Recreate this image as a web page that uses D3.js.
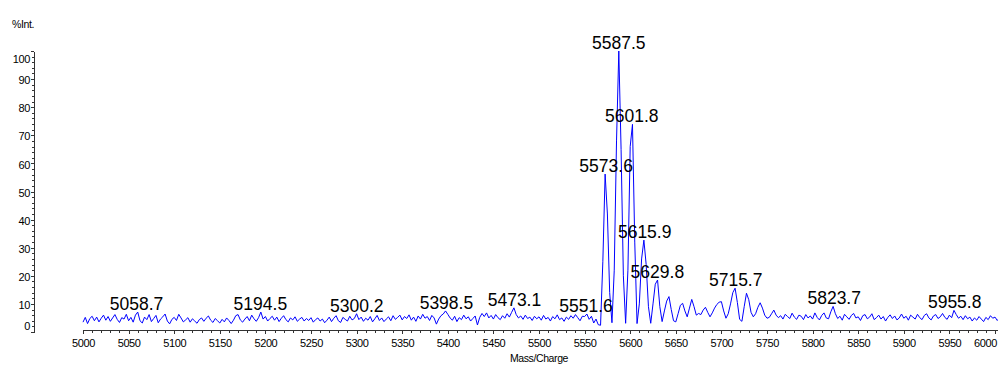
<!DOCTYPE html>
<html>
<head>
<meta charset="utf-8">
<script src="https://cdn.jsdelivr.net/npm/d3@7"></script>
<style>
  html, body { margin: 0; padding: 0; background: #fff; }
  svg { display: block; }
  .axis text { font-family: "Liberation Sans", Arial, sans-serif; font-size: 11px; letter-spacing: -0.4px; fill: #000; }
  .axis path, .axis line { stroke: #333; shape-rendering: crispEdges; }
  .peak-label { font-family: "Liberation Sans", Arial, sans-serif; font-size: 17.5px; fill: #000; }
  .title { font-family: "Liberation Sans", Arial, sans-serif; font-size: 10.5px; letter-spacing: -0.4px; fill: #000; }
</style>
</head>
<body>
<script>
// ----- Data -----

// m/z sampling of the trace
const mzStart = 5000;
const mzStep = 2.5;

// %Int. per sample, 20 samples per 50 Da
const intensity = [
    // 5000
    3.5, 5.2, 3.0, 4.8, 5.6, 4.0, 5.3, 3.6, 4.9, 6.0, 4.2, 5.5, 3.8, 5.0, 6.2, 4.5, 3.4, 5.1, 4.6, 6.3,
    // 5050
    4.0, 5.2, 3.5, 6.0, 7.1, 4.0, 3.2, 5.3, 4.4, 6.2, 3.7, 4.8, 5.9, 3.3, 4.6, 5.4, 6.4, 3.9, 2.9, 4.5,
    // 5100
    5.2, 4.1, 6.3, 5.0, 3.6, 4.3, 5.1, 3.5, 4.7, 3.9, 3.1, 4.4, 5.0, 3.8, 4.9, 5.7, 4.2, 3.4, 4.8, 4.0,
    // 5150
    3.2, 4.5, 3.6, 5.0, 4.1, 3.0, 4.2, 5.8, 6.2, 4.3, 3.5, 4.6, 5.5, 4.0, 6.0, 4.7, 3.8, 5.1, 7.1, 4.6,
    // 5200
    5.5, 3.9, 4.8, 5.6, 4.2, 5.3, 3.7, 4.9, 5.8, 4.4, 3.6, 5.0, 4.3, 5.4, 3.8, 4.6, 5.2, 3.9, 4.8, 4.1,
    // 5250
    5.1, 3.5, 4.4, 5.0, 3.9, 4.6, 3.3, 4.2, 5.3, 3.7, 4.9, 5.8, 4.0, 3.4, 5.2, 4.5, 3.9, 5.6, 4.3, 4.8,
    // 5300
    6.5, 4.4, 5.3, 3.8, 4.9, 4.2, 5.5, 3.6, 4.7, 5.9, 4.1, 5.0, 3.7, 4.6, 5.4, 4.0, 5.8, 4.5, 5.2, 6.0,
    // 5350
    4.3, 5.5, 4.8, 6.1, 4.2, 5.3, 3.8, 5.7, 4.6, 6.3, 4.9, 5.5, 4.1, 5.9, 5.0, 2.8, 4.6, 5.8, 6.4, 7.5,
    // 5400
    6.3, 5.0, 4.2, 5.6, 3.7, 5.1, 4.4, 6.0, 4.7, 5.4, 3.9, 4.8, 5.7, 2.5, 5.2, 6.6, 5.5, 6.8, 5.0, 5.9,
    // 5450
    4.6, 6.2, 5.1, 4.4, 5.8, 4.9, 6.5, 5.3, 7.0, 8.6, 6.2, 5.0, 5.7, 4.5, 6.0, 4.8, 5.3, 4.1, 5.6, 4.7,
    // 5500
    5.4, 4.2, 5.9, 4.6, 5.2, 3.9, 5.5, 4.7, 6.1, 4.4, 5.0, 3.8, 5.3, 4.5, 5.8, 4.9, 6.2, 5.1, 4.0, 5.6,
    // 5550
    5.5, 6.4, 4.5, 5.6, 3.2, 4.6, 2.6, 2.4, 25, 56.2, 42, 14, 3.3, 22, 68, 100, 65, 20, 3.1, 22,
    // 5600
    66, 73.9, 32, 3.0, 10, 26, 32.7, 24, 9, 3.1, 10, 17, 18.5, 9, 3.7, 7.5, 11, 12.6, 8, 4.0,
    // 5650
    3.6, 6.5, 9.5, 10.2, 7.5, 5.4, 8.5, 11.6, 9.0, 6.0, 6.6, 6.2, 7.8, 8.8, 7.0, 5.4, 6.8, 8.5, 9.8, 10.6,
    // 5700
    10.8, 7.5, 4.9, 6.5, 10.0, 14.0, 15.6, 10.5, 4.5, 3.8, 9.0, 13.8, 11.5, 7.0, 5.4, 6.5, 8.8, 10.4, 8.5, 6.0,
    // 5750
    4.9, 5.2, 6.5, 7.8, 6.0, 5.1, 5.8, 4.6, 6.3, 5.5, 4.8, 6.7, 5.3, 4.5, 6.0, 5.6, 4.4, 6.2, 5.0, 5.7,
    // 5800
    4.6, 6.8, 5.2, 4.3, 5.9, 6.8, 5.0, 4.7, 7.2, 9.1, 6.5, 4.8, 5.6, 4.2, 6.3, 5.4, 4.5, 5.9, 6.6, 5.0,
    // 5850
    5.4, 4.1, 5.8, 6.2, 4.7, 5.3, 6.5, 4.4, 5.1, 6.0, 4.6, 5.5, 3.9, 5.2, 6.1, 4.8, 5.7, 4.3, 5.0, 6.4,
    // 5900
    4.9, 5.6, 4.2, 6.0, 5.3, 4.6, 6.3, 5.1, 4.4, 5.9, 6.5, 5.0, 4.3, 5.7, 6.2, 4.8, 5.4, 6.6, 5.2, 4.5,
    // 5950
    6.0, 5.1, 7.7, 6.2, 4.9, 5.6, 4.4, 5.8, 4.7, 5.3, 3.9, 5.0, 4.2, 5.5, 4.6, 3.7, 5.2, 4.4, 5.8, 4.9,
    // 6000
    5.3, 4.1, 5.0
];

// annotated peaks
const peakLabels = ["5058.7", "5194.5", "5300.2", "5398.5", "5473.1", "5551.6", "5573.6", "5587.5",
    "5601.8", "5615.9", "5629.8", "5715.7", "5823.7", "5955.8"];
const peakMz = [5058.7, 5194.5, 5300.2, 5398.5, 5473.1, 5551.6, 5573.6, 5587.5,
    5601.8, 5615.9, 5629.8, 5715.7, 5823.7, 5955.8];
const peakHeight = [7.1, 7.1, 6.5, 7.5, 8.6, 6.4, 56.2, 100, 73.9, 32.7, 18.5, 15.6, 9.1, 7.7];

// axis ticks
const xTickValues = [5000, 5050, 5100, 5150, 5200, 5250, 5300, 5350, 5400, 5450, 5500,
    5550, 5600, 5650, 5700, 5750, 5800, 5850, 5900, 5950, 6000];
const yTickValues = [0, 10, 20, 30, 40, 50, 60, 70, 80, 90, 100];

// ----- Main program -----

const Width = 998;
const Height = 367;

function main() {
    const spectrum = intensity.map((v, i) => ({ mz: mzStart + i * mzStep, v: v }));

    const svg = d3.select("body").append("svg")
        .attr("width", Width)
        .attr("height", Height);

    // Scales
    const scaleX = d3.scaleLinear()
        .domain([5000, 6000])
        .range([83, 995]);
    const scaleY = d3.scaleLinear()
        .domain([0, 100])
        .range([332, 51]);

    // X axis (minor ticks every 10, labelled every 50)
    const minorX = d3.range(5000, 6001, 10);
    svg.append("g")
        .attr("class", "axis")
        .attr("transform", "translate(0, 330)")
        .call(d3.axisBottom(scaleX).tickValues(minorX).tickSize(3).tickSizeOuter(0).tickFormat(""))
        .select(".domain")
            .attr("d", `M83,0.5H${Width}`);

    const xAxis = svg.append("g")
        .attr("class", "axis")
        .attr("transform", "translate(0, 330)")
        .call(d3.axisBottom(scaleX)
            .tickValues(xTickValues)
            .tickSize(4)
            .tickSizeOuter(0)
            .tickPadding(5)
            .tickFormat(d3.format("d")));
    xAxis.select(".domain").remove();
    // last label is pulled inside the frame
    xAxis.selectAll(".tick text")
        .filter(d => d === 6000)
        .attr("dx", -10);

    // Y axis (minor ticks every 2)
    const minorY = d3.range(0, 101, 2);
    svg.append("g")
        .attr("class", "axis")
        .attr("transform", "translate(34, 0)")
        .call(d3.axisLeft(scaleY).tickValues(minorY).tickSize(2).tickSizeOuter(0).tickFormat(""));

    const yAxis = svg.append("g")
        .attr("class", "axis")
        .attr("transform", "translate(34, 0)")
        .call(d3.axisLeft(scaleY)
            .tickValues(yTickValues)
            .tickSize(3)
            .tickSizeOuter(0)
            .tickPadding(1));
    yAxis.select(".domain").remove();
    yAxis.selectAll(".tick text")
        .attr("dy", d => d === 0 ? "-0.22em" : d === 100 ? "1.05em" : "0.42em");

    // Axis titles
    svg.append("text")
        .attr("class", "title")
        .attr("x", 12)
        .attr("y", 28)
        .text("%Int.");
    svg.append("text")
        .attr("class", "title")
        .attr("x", scaleX(5500))
        .attr("y", 362)
        .attr("text-anchor", "middle")
        .text("Mass/Charge");

    // Spectrum trace
    const line = d3.line()
        .x(d => scaleX(d.mz))
        .y(d => scaleY(d.v));
    svg.append("path")
        .datum(spectrum)
        .attr("fill", "none")
        .attr("stroke", "#0000ff")
        .attr("stroke-width", 1)
        .attr("stroke-linejoin", "round")
        .attr("d", line);

    // Peak labels
    svg.selectAll(".peak-label")
        .data(peakLabels)
        .enter()
        .append("text")
            .attr("class", "peak-label")
            .attr("text-anchor", "middle")
            .attr("x", (d, i) => scaleX(peakMz[i]))
            .attr("y", (d, i) => scaleY(peakHeight[i]) - 2)
            .text(d => d);
}

main();
</script>
</body>
</html>
